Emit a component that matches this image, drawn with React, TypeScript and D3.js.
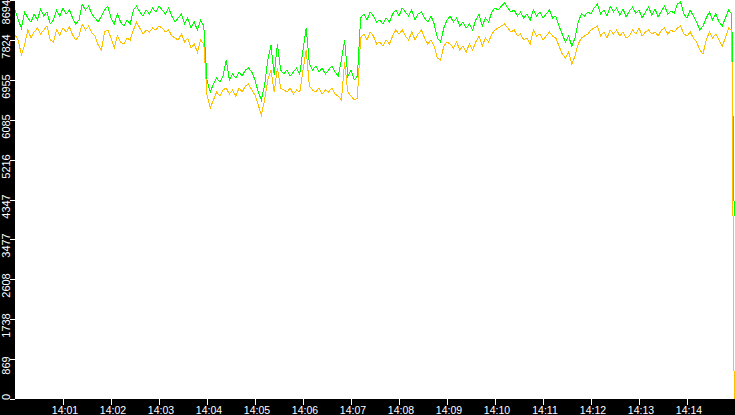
import * as d3 from 'd3'
import { useRef, useEffect } from 'react'

// one sample every 4 seconds from 14:00:00, last sample is the drop at 14:14:59
const SAMPLE_SEC = 4
const LAST_SEC = 899

const greenSeries: number[] = [
  8476, 8258, 8084, 8433, 8302, 8215, 8389, 8258, 8498, 8345,
  8433, 8171, 8258, 8476, 8345, 8520, 8389, 8476, 8302, 8171,
  8258, 8607, 8476, 8563, 8389, 8302, 8215, 8345, 8476, 8563,
  8302, 8171, 8389, 8215, 8128, 8258, 8171, 8476, 8563, 8433,
  8345, 8476, 8389, 8520, 8433, 8563, 8476, 8389, 8520, 8345,
  8215, 8302, 8389, 8171, 8302, 8084, 8215, 8041, 8258, 8128,
  6951, 6689, 6864, 6994, 6907, 7038, 7387, 6951, 7082, 6994,
  7125, 7038, 7169, 7212, 7125, 6951, 6689, 6515, 6842, 7387,
  7713, 7060, 7735, 7169, 7082, 7169, 7038, 7125, 7212, 7082,
  7605, 8084, 7300, 7169, 7256, 7125, 7212, 7082, 7169, 7256,
  7125, 7038, 7387, 7823, 7038, 7169, 6951, 7038,
  8302, 8389, 8258, 8433, 8345, 8215, 8258, 8171, 8302, 8215,
  8389, 8476, 8345, 8520, 8433, 8345, 8476, 8258, 8389, 8433,
  8302, 8215, 8345, 8171, 7866, 7779, 8084, 8258, 8345, 8215,
  8302, 8128, 8215, 8084, 8171, 8041, 8258, 8389, 8128, 8302,
  8215, 8433, 8520, 8476, 8563, 8629, 8520, 8433, 8476, 8345,
  8433, 8302, 8389, 8258, 8476, 8345, 8433, 8302, 8389, 8476,
  8302, 8345, 8128, 7953, 7779, 7910, 7692, 7866, 8215, 8389,
  8345, 8433, 8389, 8520, 8607, 8389, 8476, 8345, 8563, 8433,
  8520, 8367, 8498, 8323, 8454, 8542, 8410, 8476, 8302, 8433,
  8541, 8367, 8498, 8323, 8454, 8563, 8389, 8454, 8410, 8607,
  8650, 8389, 8302, 8476, 8345, 8215, 8041, 8128, 8302, 8433,
  8258, 8389, 8215, 8128, 8302, 8476, 8389,
  3987,
]

const yellowSeries: number[] = [
  7931, 7823, 7496, 7713, 8041, 7866, 7997, 8084, 7953, 8041,
  8128, 7823, 7779, 8041, 7931, 8084, 7997, 8106, 7931, 7823,
  7910, 8171, 8041, 8128, 7975, 7910, 7713, 7605, 7997, 8041,
  7866, 7648, 7910, 7779, 7735, 7866, 7823, 8041, 8215, 8084,
  7953, 8041, 7997, 8084, 8041, 8128, 8084, 7997, 8041, 7910,
  7866, 7823, 7953, 7779, 7866, 7648, 7735, 7561, 7823, 7735,
  6624, 6341, 6515, 6689, 6602, 6733, 6776, 6646, 6733, 6602,
  6776, 6689, 6820, 6864, 6733, 6624, 6406, 6188, 6515, 6951,
  7169, 6689, 7212, 6776, 6733, 6689, 6776, 6646, 6733, 6689,
  7169, 7605, 6820, 6733, 6689, 6776, 6646, 6733, 6689, 6776,
  6646, 6602, 6515, 7343, 6689, 6602, 6515, 6559,
  7866, 7953, 7823, 7997, 7910, 7735, 7779, 7692, 7823, 7735,
  7910, 8041, 7953, 8041, 7910, 7823, 7997, 7823, 7953, 8041,
  7866, 7735, 7823, 7692, 7430, 7387, 7692, 7779, 7735, 7648,
  7779, 7605, 7692, 7561, 7735, 7605, 7779, 7910, 7692, 7866,
  7779, 7953, 8041, 8084, 8128, 8171, 8084, 7997, 8041, 7910,
  7953, 7823, 7866, 7735, 8041, 7910, 7953, 7823, 7910, 7997,
  7910, 7866, 7692, 7517, 7430, 7561, 7300, 7474, 7735, 7866,
  7910, 7953, 8041, 8084, 8128, 7910, 7997, 7866, 8041, 7953,
  8041, 7910, 7997, 7866, 7910, 8041, 7953, 8084, 7910, 7997,
  8041, 7953, 7997, 7910, 8041, 8084, 7953, 8041, 7997, 8084,
  8128, 7953, 7910, 7997, 7866, 7779, 7605, 7517, 7823, 7997,
  7866, 7953, 7823, 7692, 7866, 8084, 8041,
  0,
]

const yTickLabels: number[] = [0, 869, 1738, 2608, 3477, 4347, 5216, 6085, 6955, 7824, 8694]
const xTickMinutes: number[] = [1, 2, 3, 4, 5, 6, 7, 8, 9, 10, 11, 12, 13, 14]

const W = 735
const H = 415
const margin = { left: 15, bottom: 16 }
const Y_MAX = 8694

const start = new Date(2000, 0, 1, 14, 0, 0)
const secToDate = (s: number) => new Date(start.getTime() + s * 1000)
const sampleSec = (i: number, n: number) => (i === n - 1 ? LAST_SEC : i * SAMPLE_SEC)

export default function App() {
  const svgRef = useRef<SVGSVGElement>(null)

  useEffect(() => {
    const svg = d3.select(svgRef.current)
    svg.selectAll('*').remove()

    const plotBottom = H - margin.bottom
    const x = d3.scaleTime()
      .domain([start, secToDate(900)])
      .range([margin.left, W])
    const y = d3.scaleLinear()
      .domain([0, Y_MAX])
      .range([plotBottom, 0])

    svg.append('rect').attr('width', W).attr('height', H).attr('fill', '#000')
    svg.append('rect')
      .attr('x', margin.left).attr('y', 0)
      .attr('width', W - margin.left).attr('height', plotBottom)
      .attr('fill', '#fff')

    const line = d3.line<number>()
      .x((d, i, arr) => x(secToDate(sampleSec(i, arr.length))))
      .y(d => y(d))

    const series: [number[], string][] = [
      [greenSeries, '#00ff00'],
      [yellowSeries, '#ffc000'],
    ]
    series.forEach(([vals, color]) => {
      svg.append('path')
        .datum(vals)
        .attr('d', line)
        .attr('fill', 'none')
        .attr('stroke', color)
        .attr('stroke-width', 1)
        .attr('shape-rendering', 'crispEdges')
    })

    // y axis, labels turned upright along the left band
    const yAxis = svg.append('g')
    yTickLabels.forEach(v => {
      const ty = Math.round(y(v)) + 0.5
      yAxis.append('line')
        .attr('x1', 10).attr('x2', margin.left)
        .attr('y1', ty).attr('y2', ty)
        .attr('stroke', '#fff')
        .attr('shape-rendering', 'crispEdges')
      const t = yAxis.append('text')
        .attr('text-anchor', 'middle')
        .attr('fill', '#fff')
        .attr('font-family', 'Liberation Sans, Arial, sans-serif')
        .attr('font-size', 11)
        .text(String(v))
      const w = (t.node() as SVGTextElement).getComputedTextLength()
      const cy = Math.max(w / 2, Math.min(plotBottom + 1 - w / 2, ty + 6))
      t.attr('transform', `translate(9.5,${cy}) rotate(-90)`)
    })

    // time axis in the bottom band
    const xAxis = svg.append('g')
    const fmt = d3.timeFormat('%H:%M')
    xTickMinutes.forEach(m => {
      const d = secToDate(m * 60)
      const tx = Math.round(x(d)) + 0.5
      xAxis.append('line')
        .attr('x1', tx).attr('x2', tx)
        .attr('y1', plotBottom).attr('y2', plotBottom + 6)
        .attr('stroke', '#fff')
        .attr('shape-rendering', 'crispEdges')
      xAxis.append('text')
        .attr('x', tx + 1.5)
        .attr('y', H - 1.5)
        .attr('text-anchor', 'middle')
        .attr('fill', '#fff')
        .attr('font-family', 'Liberation Sans, Arial, sans-serif')
        .attr('font-size', 10.5)
        .text(fmt(d))
    })
  }, [])

  return (
    <svg
      ref={svgRef}
      width={W}
      height={H}
      style={{ position: 'fixed', left: 0, top: 0, display: 'block' }}
    />
  )
}
